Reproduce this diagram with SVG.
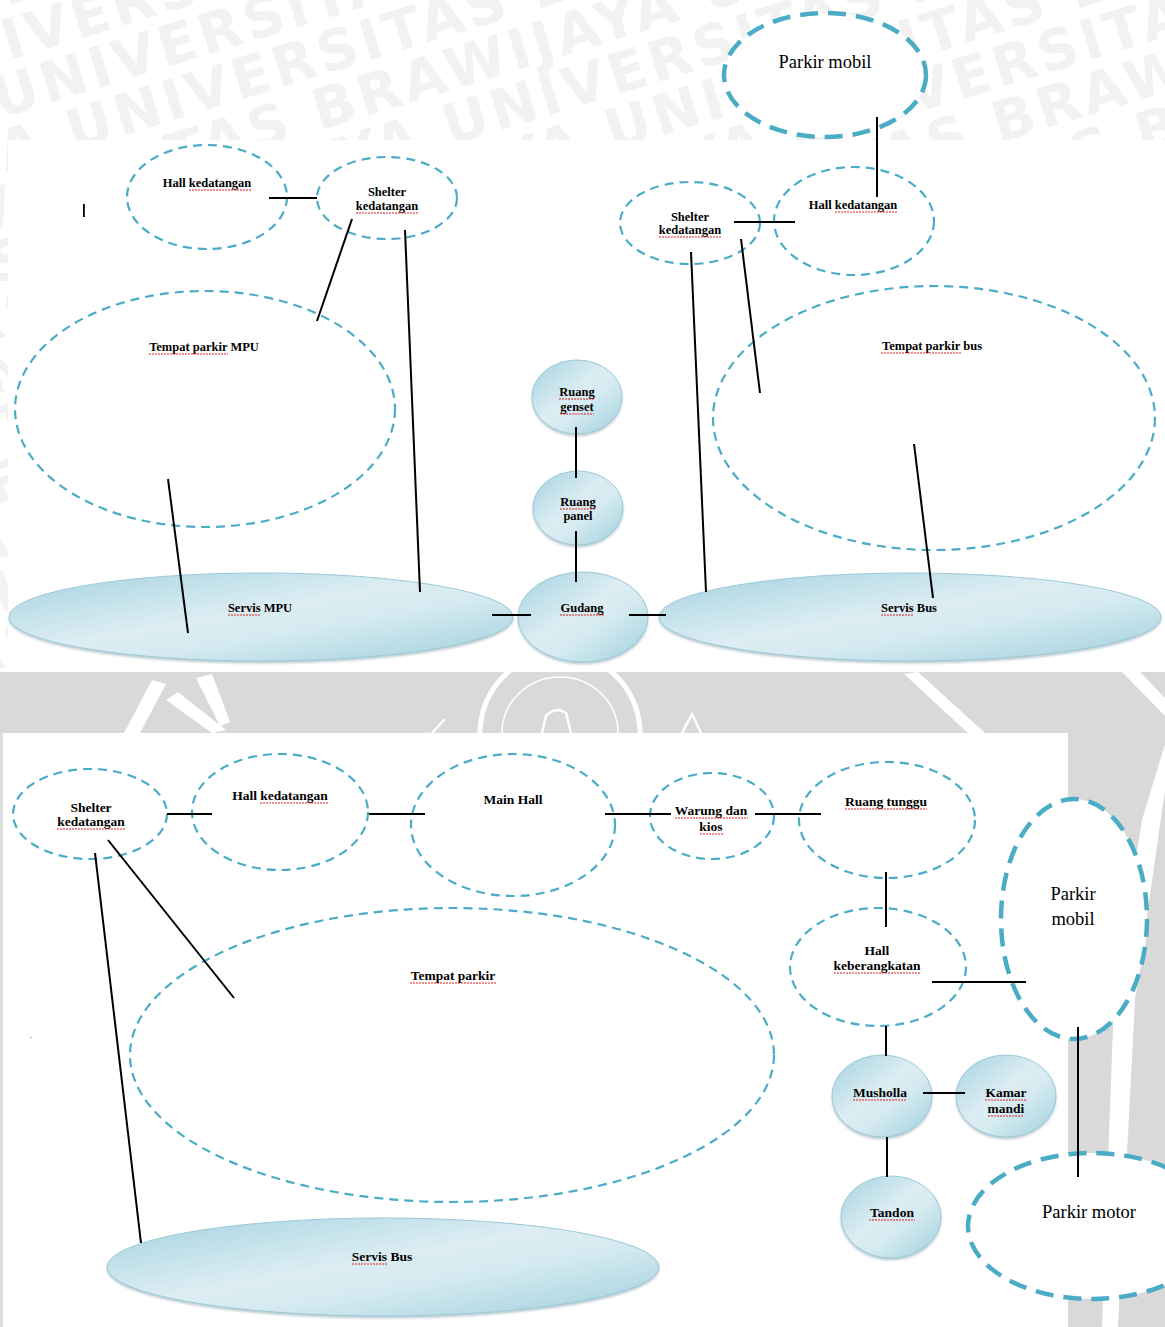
<svg xmlns="http://www.w3.org/2000/svg" width="1165" height="1327" viewBox="0 0 1165 1327">
<defs>
<style>
.dash{fill:none;stroke:#4bacc6;stroke-width:2.2;stroke-dasharray:9 6}
.thick{fill:#fff;stroke:#4bacc6;stroke-width:4.5;stroke-dasharray:18 10}
.fill{fill:url(#g1);stroke:#9bcad8;stroke-width:1;filter:url(#sh)}
.ln{stroke:#000;stroke-width:2;fill:none}
.lb{font-family:"Liberation Serif",serif;font-weight:bold;font-size:12.5px;fill:#000;text-anchor:middle}
.lb2{font-family:"Liberation Serif",serif;font-weight:bold;font-size:13.5px;fill:#000;text-anchor:middle}
.nm{font-family:"Liberation Serif",serif;font-size:18.5px;fill:#000;text-anchor:middle}
.sp{stroke:#e02020;stroke-width:1.1;stroke-dasharray:2 1;fill:none}
.wm{font-family:"DejaVu Sans",sans-serif;font-weight:bold;font-size:56px;letter-spacing:4px;fill:#f2f2f2}
</style>
<linearGradient id="g1" x1="0" y1="0" x2="1" y2="1">
<stop offset="0" stop-color="#a3d2df"/>
<stop offset="0.45" stop-color="#dcedf3"/>
<stop offset="0.6" stop-color="#d6ebf1"/>
<stop offset="1" stop-color="#a0cfdc"/>
</linearGradient>
<filter id="sh" x="-10%" y="-10%" width="120%" height="130%">
<feDropShadow dx="0" dy="2" stdDeviation="1.2" flood-color="#7a9aa5" flood-opacity="0.5"/>
</filter>
<clipPath id="wmclip">
<rect x="0" y="0" width="1165" height="140"/>
<rect x="0" y="140" width="8" height="532"/>
</clipPath>
</defs>

<rect x="0" y="0" width="1165" height="1327" fill="#fff"/>

<g id="watermark" clip-path="url(#wmclip)">
<g transform="rotate(-17)">
<text class="wm" x="-186" y="-45">UNIVERSITAS BRAWIJAYA UNIVERSITAS BRAWIJAYA UNIVERSITAS BRAWIJAYA</text>
<text class="wm" x="-302" y="7.7">UNIVERSITAS BRAWIJAYA UNIVERSITAS BRAWIJAYA UNIVERSITAS BRAWIJAYA</text>
<text class="wm" x="-110" y="60.3">UNIVERSITAS BRAWIJAYA UNIVERSITAS BRAWIJAYA UNIVERSITAS BRAWIJAYA</text>
<text class="wm" x="-35" y="112.9">UNIVERSITAS BRAWIJAYA UNIVERSITAS BRAWIJAYA UNIVERSITAS BRAWIJAYA</text>
<text class="wm" x="-380" y="165.6">BRAWIJAYA UNIVERSITAS BRAWIJAYA UNIVERSITAS BRAWIJAYA UNIVERSITAS</text>
<text class="wm" x="-217" y="218.2">UNIVERSITAS BRAWIJAYA UNIVERSITAS BRAWIJAYA UNIVERSITAS BRAWIJAYA</text>
<text class="wm" x="-503" y="270.8">UNIVERSITAS BRAWIJAYA UNIVERSITAS BRAWIJAYA UNIVERSITAS BRAWIJAYA</text>
<text class="wm" x="-349" y="323.4">UNIVERSITAS BRAWIJAYA UNIVERSITAS BRAWIJAYA UNIVERSITAS BRAWIJAYA</text>
<text class="wm" x="-175" y="376.1">UNIVERSITAS BRAWIJAYA UNIVERSITAS BRAWIJAYA UNIVERSITAS BRAWIJAYA</text>
<text class="wm" x="-461" y="428.7">UNIVERSITAS BRAWIJAYA UNIVERSITAS BRAWIJAYA UNIVERSITAS BRAWIJAYA</text>
<text class="wm" x="-327" y="481.3">UNIVERSITAS BRAWIJAYA UNIVERSITAS BRAWIJAYA UNIVERSITAS BRAWIJAYA</text>
<text class="wm" x="-563" y="534">UNIVERSITAS BRAWIJAYA UNIVERSITAS BRAWIJAYA UNIVERSITAS BRAWIJAYA</text>
<text class="wm" x="-280" y="586.6">UNIVERSITAS BRAWIJAYA UNIVERSITAS BRAWIJAYA UNIVERSITAS BRAWIJAYA</text>
<text class="wm" x="-446" y="639.2">UNIVERSITAS BRAWIJAYA UNIVERSITAS BRAWIJAYA UNIVERSITAS BRAWIJAYA</text>
<text class="wm" x="-212" y="691.9">UNIVERSITAS BRAWIJAYA UNIVERSITAS BRAWIJAYA UNIVERSITAS BRAWIJAYA</text>
</g>
</g>

<g id="band">
<rect x="0" y="672" width="1165" height="61" fill="#d9d9d9"/>
<rect x="0" y="733" width="3" height="594" fill="#dcdcdc"/>
<rect x="1068" y="733" width="97" height="594" fill="#d9d9d9"/>
<g fill="#fff">
<polygon points="124,733 140,733 166,684 152,680"/>
<polygon points="166,700 178,692 226,730 212,733"/>
<polygon points="196,678 212,674 230,722 220,726"/>
<polygon points="904,674 918,672 985,733 968,733"/>
<polygon points="1122,672 1140,672 1165,698 1165,716"/>
<polygon points="1165,744 1165,790 1135,1000 1118,1327 1102,1327 1114,1000 1142,820"/>
</g>
<path d="M480,733 A80,80 0 0 1 640,733" fill="none" stroke="#fff" stroke-width="5"/>
<path d="M502,733 A58,56 0 0 1 618,733" fill="none" stroke="#fff" stroke-width="1.5"/>
<path d="M542,733 L546,716 Q556,706 566,713 L571,733" fill="none" stroke="#fff" stroke-width="2.5"/>
<path d="M682,733 L692,714 L701,733" fill="none" stroke="#fff" stroke-width="2.5"/>
<path d="M432,733 L445,719" fill="none" stroke="#fff" stroke-width="2.5"/>
</g>

<rect x="83" y="204" width="1.8" height="13" fill="#000"/>
<text x="30" y="1038" font-family="Liberation Serif,serif" font-size="8" fill="#000">.</text>

<g id="parkir-mobil-top">
<ellipse class="thick" cx="825" cy="75" rx="101" ry="62"/>
<text class="nm" x="825" y="68">Parkir mobil</text>
</g>
<g id="hall-kedatangan-1">
<ellipse class="dash" cx="207" cy="197" rx="80" ry="52"/>
<text class="lb" x="207" y="187">Hall kedatangan</text>
<line class="sp" x1="189" y1="190" x2="251" y2="190"/>
</g>
<g id="shelter-kedatangan-1">
<ellipse class="dash" cx="387" cy="198" rx="70" ry="41"/>
<text class="lb" x="387" y="196">Shelter</text>
<text class="lb" x="387" y="210">kedatangan</text>
<line class="sp" x1="356" y1="213" x2="418" y2="213"/>
</g>
<g id="tempat-parkir-mpu">
<ellipse class="dash" cx="205" cy="409" rx="190" ry="118"/>
<text class="lb" x="204" y="351">Tempat parkir MPU</text>
<line class="sp" x1="149" y1="354" x2="228" y2="354"/>
</g>
<g id="shelter-kedatangan-2">
<ellipse class="dash" cx="690" cy="223" rx="70" ry="41"/>
<text class="lb" x="690" y="221">Shelter</text>
<text class="lb" x="690" y="234">kedatangan</text>
<line class="sp" x1="659" y1="237" x2="721" y2="237"/>
</g>
<g id="hall-kedatangan-2">
<ellipse class="dash" cx="854" cy="221" rx="80" ry="54"/>
<text class="lb" x="853" y="209">Hall kedatangan</text>
<line class="sp" x1="835" y1="212" x2="897" y2="212"/>
</g>
<g id="tempat-parkir-bus">
<ellipse class="dash" cx="934" cy="418" rx="221" ry="132"/>
<text class="lb" x="932" y="350">Tempat parkir bus</text>
<line class="sp" x1="881" y1="353" x2="961" y2="353"/>
</g>
<g id="ruang-genset">
<ellipse class="fill" cx="577" cy="397" rx="45" ry="37"/>
<text class="lb" x="577" y="396">Ruang</text>
<text class="lb" x="577" y="411">genset</text>
<line class="sp" x1="559" y1="399" x2="595" y2="399"/>
<line class="sp" x1="560" y1="414" x2="594" y2="414"/>
</g>
<g id="ruang-panel">
<ellipse class="fill" cx="578" cy="508" rx="45" ry="37"/>
<text class="lb" x="578" y="506">Ruang</text>
<text class="lb" x="578" y="520">panel</text>
<line class="sp" x1="560" y1="509" x2="596" y2="509"/>
</g>
<g id="servis-mpu">
<ellipse class="fill" cx="261" cy="617" rx="252" ry="44"/>
<text class="lb" x="260" y="612">Servis MPU</text>
<line class="sp" x1="228" y1="615" x2="261" y2="615"/>
</g>
<g id="gudang">
<ellipse class="fill" cx="583" cy="617" rx="65" ry="45"/>
<text class="lb" x="582" y="612">Gudang</text>
<line class="sp" x1="560" y1="615" x2="604" y2="615"/>
</g>
<g id="servis-bus-1">
<ellipse class="fill" cx="910" cy="617" rx="251" ry="44"/>
<text class="lb" x="909" y="612">Servis Bus</text>
<line class="sp" x1="881" y1="615" x2="914" y2="615"/>
</g>

<g id="shelter-kedatangan-3">
<ellipse class="dash" cx="90" cy="814" rx="77" ry="45"/>
<text class="lb2" x="91" y="812">Shelter</text>
<text class="lb2" x="91" y="826">kedatangan</text>
<line class="sp" x1="57" y1="829" x2="125" y2="829"/>
</g>
<g id="hall-kedatangan-3">
<ellipse class="dash" cx="280" cy="812" rx="88" ry="58"/>
<text class="lb2" x="280" y="800">Hall kedatangan</text>
<line class="sp" x1="260" y1="803" x2="328" y2="803"/>
</g>
<g id="main-hall">
<ellipse class="dash" cx="513" cy="825" rx="102" ry="71"/>
<text class="lb2" x="513" y="804">Main Hall</text>
</g>
<g id="warung-kios">
<ellipse class="dash" cx="712" cy="816" rx="62" ry="43"/>
<text class="lb2" x="711" y="815">Warung dan</text>
<text class="lb2" x="711" y="831">kios</text>
<line class="sp" x1="675" y1="818" x2="748" y2="818"/>
<line class="sp" x1="700" y1="834" x2="723" y2="834"/>
</g>
<g id="ruang-tunggu">
<ellipse class="dash" cx="887" cy="820" rx="88" ry="58"/>
<text class="lb2" x="886" y="806">Ruang tunggu</text>
<line class="sp" x1="845" y1="809" x2="927" y2="809"/>
</g>
<g id="hall-keberangkatan">
<ellipse class="dash" cx="878" cy="967" rx="88" ry="59"/>
<text class="lb2" x="877" y="955">Hall</text>
<text class="lb2" x="877" y="970">keberangkatan</text>
<line class="sp" x1="834" y1="973" x2="921" y2="973"/>
</g>
<g id="parkir-mobil-right">
<ellipse class="thick" cx="1074" cy="919" rx="73" ry="120"/>
<text class="nm" x="1073" y="900">Parkir</text>
<text class="nm" x="1073" y="925">mobil</text>
</g>
<g id="tempat-parkir">
<ellipse class="dash" cx="452" cy="1055" rx="322" ry="147"/>
<text class="lb2" x="453" y="980">Tempat parkir</text>
<line class="sp" x1="410" y1="983" x2="496" y2="983"/>
</g>
<g id="musholla">
<ellipse class="fill" cx="882" cy="1096" rx="50" ry="41"/>
<text class="lb2" x="880" y="1097">Musholla</text>
<line class="sp" x1="853" y1="1100" x2="907" y2="1100"/>
</g>
<g id="kamar-mandi">
<ellipse class="fill" cx="1006" cy="1096" rx="50" ry="41"/>
<text class="lb2" x="1006" y="1097">Kamar</text>
<text class="lb2" x="1006" y="1113">mandi</text>
<line class="sp" x1="985" y1="1100" x2="1027" y2="1100"/>
<line class="sp" x1="988" y1="1116" x2="1024" y2="1116"/>
</g>
<g id="tandon">
<ellipse class="fill" cx="891" cy="1217" rx="50" ry="41"/>
<text class="lb2" x="892" y="1217">Tandon</text>
<line class="sp" x1="869" y1="1220" x2="915" y2="1220"/>
</g>
<g id="parkir-motor">
<ellipse class="thick" cx="1092" cy="1226" rx="124" ry="73"/>
<text class="nm" x="1089" y="1218">Parkir motor</text>
</g>
<g id="servis-bus-2">
<ellipse class="fill" cx="383" cy="1267" rx="276" ry="49"/>
<text class="lb2" x="382" y="1261">Servis Bus</text>
<line class="sp" x1="352" y1="1264" x2="387" y2="1264"/>
</g>

<g id="connectors">
<line class="ln" x1="877" y1="117" x2="877" y2="197"/>
<line class="ln" x1="269" y1="198" x2="317" y2="198"/>
<line class="ln" x1="352" y1="219" x2="317" y2="321"/>
<line class="ln" x1="405" y1="230" x2="420" y2="592"/>
<line class="ln" x1="168" y1="479" x2="188" y2="633"/>
<line class="ln" x1="492" y1="615" x2="531" y2="615" stroke-width="2.5"/>
<line class="ln" x1="629" y1="615" x2="666" y2="615" stroke-width="2.5"/>
<line class="ln" x1="576" y1="427" x2="576" y2="478"/>
<line class="ln" x1="576" y1="531" x2="576" y2="582"/>
<line class="ln" x1="734" y1="222" x2="795" y2="222"/>
<line class="ln" x1="741" y1="239" x2="760" y2="393"/>
<line class="ln" x1="691" y1="252" x2="706" y2="592"/>
<line class="ln" x1="914" y1="444" x2="933" y2="598"/>
<line class="ln" x1="167" y1="814" x2="212" y2="814" stroke-width="2.5"/>
<line class="ln" x1="369" y1="814" x2="425" y2="814" stroke-width="2.5"/>
<line class="ln" x1="605" y1="814" x2="671" y2="814" stroke-width="2.5"/>
<line class="ln" x1="755" y1="814" x2="821" y2="814" stroke-width="2.5"/>
<line class="ln" x1="886" y1="872" x2="886" y2="927" stroke-width="2.5"/>
<line class="ln" x1="932" y1="982" x2="1026" y2="982" stroke-width="2.5"/>
<line class="ln" x1="1078" y1="1027" x2="1078" y2="1177" stroke-width="2.5"/>
<line class="ln" x1="886" y1="1026" x2="886" y2="1056" stroke-width="2.5"/>
<line class="ln" x1="923" y1="1093" x2="965" y2="1093" stroke-width="2.5"/>
<line class="ln" x1="887" y1="1137" x2="887" y2="1177" stroke-width="2.5"/>
<line class="ln" x1="108" y1="840" x2="234" y2="998"/>
<line class="ln" x1="95" y1="853" x2="141" y2="1243"/>
</g>
</svg>
